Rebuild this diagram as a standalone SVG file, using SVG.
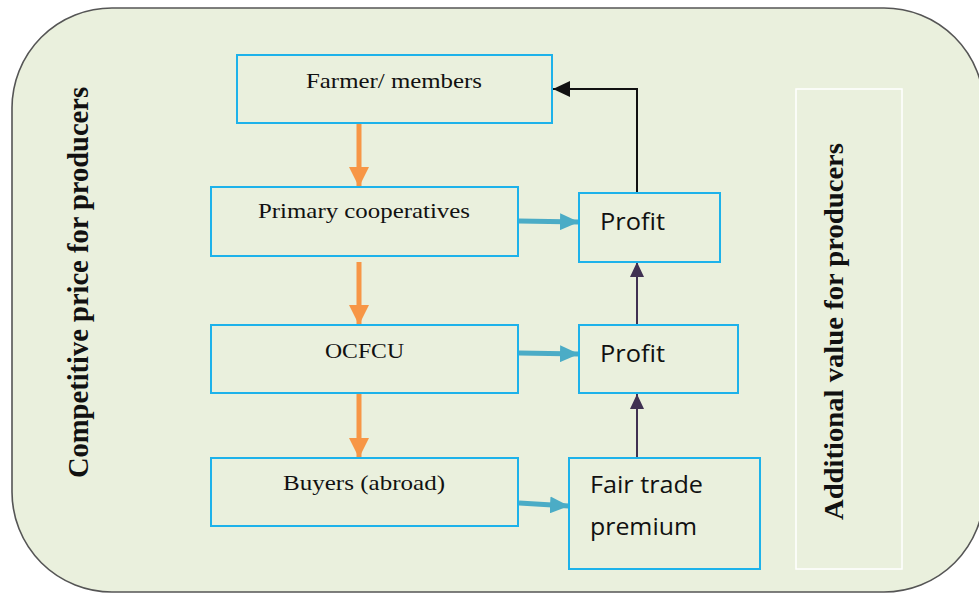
<svg xmlns="http://www.w3.org/2000/svg" width="979" height="594" viewBox="0 0 979 594">
<defs>
<style>
.bg{fill:#EAF0DD;stroke:#555;stroke-width:1.6}
.box{fill:none;stroke:#1DB2EA;stroke-width:2}
.wbox{fill:none;stroke:#fff;stroke-width:1.5}
.serif{font-family:"Liberation Serif","Times New Roman",serif;fill:#111}
.sans{font-family:"Open Sans","Noto Sans",sans-serif;fill:#111}
.vt{font-family:"Liberation Serif","Times New Roman",serif;font-weight:bold;fill:#111}
.orange{stroke:#F79646;stroke-width:5;fill:none}
.blue{stroke:#4BACC6;stroke-width:5;fill:none}
.purple{stroke:#403152;stroke-width:2;fill:none}
.black{stroke:#111;stroke-width:2;fill:none}
</style>
<marker id="mOrange" markerUnits="userSpaceOnUse" markerWidth="20" markerHeight="20" viewBox="0 0 20 20" refX="20" refY="10" orient="auto"><path d="M0,0 L20,10 L0,20 Z" fill="#F79646"/></marker>
<marker id="mBlue" markerUnits="userSpaceOnUse" markerWidth="19" markerHeight="17" viewBox="0 0 19 17" refX="19" refY="8.5" orient="auto"><path d="M0,0 L19,8.5 L0,17 Z" fill="#4BACC6"/></marker>
<marker id="mPurple" markerUnits="userSpaceOnUse" markerWidth="15" markerHeight="14" viewBox="0 0 15 14" refX="15" refY="7" orient="auto"><path d="M0,0 L15,7 L0,14 Z" fill="#403152"/></marker>
<marker id="mBlack" markerUnits="userSpaceOnUse" markerWidth="17" markerHeight="16" viewBox="0 0 17 16" refX="17" refY="8" orient="auto"><path d="M0,0 L17,8 L0,16 Z" fill="#111"/></marker>
</defs>
<rect class="bg" x="12" y="8" width="972" height="584" rx="100" ry="100"/>
<g id="connectors">
<line class="orange" x1="359" y1="124" x2="359" y2="187" marker-end="url(#mOrange)"/>
<line class="orange" x1="359" y1="262" x2="359" y2="325" marker-end="url(#mOrange)"/>
<line class="orange" x1="359" y1="394" x2="359" y2="458" marker-end="url(#mOrange)"/>
<line class="blue" x1="519" y1="221" x2="579" y2="222" marker-end="url(#mBlue)"/>
<line class="blue" x1="519" y1="353" x2="579" y2="354" marker-end="url(#mBlue)"/>
<line class="blue" x1="519" y1="503" x2="569" y2="506" marker-end="url(#mBlue)"/>
<line class="purple" x1="637" y1="325" x2="637" y2="262" marker-end="url(#mPurple)"/>
<line class="purple" x1="637" y1="458" x2="637" y2="394" marker-end="url(#mPurple)"/>
<polyline class="black" points="637,193 637,89 553,89" marker-end="url(#mBlack)"/>
</g>
<g id="label-left">
<text class="vt" font-size="29" transform="translate(88,478) rotate(-90)" textLength="391" lengthAdjust="spacingAndGlyphs">Competitive price for producers</text>
</g>
<g id="farmer">
<rect class="box" x="237" y="55" width="315" height="68"/>
<text class="serif" x="394" y="88" font-size="22" text-anchor="middle" textLength="176" lengthAdjust="spacingAndGlyphs">Farmer/ members</text>
</g>
<g id="primary">
<rect class="box" x="211" y="187" width="307" height="69"/>
<text class="serif" x="364" y="218" font-size="22" text-anchor="middle" textLength="212" lengthAdjust="spacingAndGlyphs">Primary cooperatives</text>
</g>
<g id="ocfcu">
<rect class="box" x="211" y="325" width="307" height="68"/>
<text class="serif" x="364.5" y="358" font-size="22" text-anchor="middle" textLength="79" lengthAdjust="spacingAndGlyphs">OCFCU</text>
</g>
<g id="buyers">
<rect class="box" x="211" y="458" width="307" height="68"/>
<text class="serif" x="364" y="490" font-size="22" text-anchor="middle" textLength="162" lengthAdjust="spacingAndGlyphs">Buyers (abroad)</text>
</g>
<g id="profit1">
<rect class="box" x="579" y="193" width="141" height="69"/>
<text class="sans" x="600" y="230" font-size="24" textLength="65" lengthAdjust="spacingAndGlyphs">Profit</text>
</g>
<g id="profit2">
<rect class="box" x="579" y="325" width="159" height="68"/>
<text class="sans" x="600" y="362" font-size="24" textLength="65" lengthAdjust="spacingAndGlyphs">Profit</text>
</g>
<g id="fairtrade">
<rect class="box" x="569" y="458" width="191" height="111"/>
<text class="sans" x="590" y="493" font-size="24" textLength="113" lengthAdjust="spacingAndGlyphs">Fair trade</text>
<text class="sans" x="590" y="535" font-size="24" textLength="107" lengthAdjust="spacingAndGlyphs">premium</text>
</g>
<g id="label-right">
<rect class="wbox" x="796" y="89" width="106" height="480"/>
<text class="vt" font-size="28" transform="translate(843,520) rotate(-90)" textLength="377" lengthAdjust="spacingAndGlyphs">Additional value for producers</text>
</g>
</svg>
